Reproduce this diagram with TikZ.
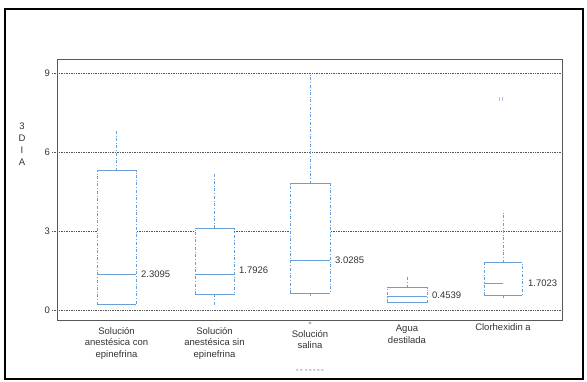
\documentclass[tikz,border=0pt]{standalone}
\usepackage{fontspec}
\setmainfont{Liberation Sans}
\usetikzlibrary{calc}

\definecolor{boxblue}{RGB}{105,160,215}
\definecolor{gridgray}{RGB}{85,85,85}

\begin{document}
\begin{tikzpicture}[x=1pt,y=-1pt,
        every node/.style={font=\fontsize{9.5}{11.5}\selectfont, text=black!80, inner sep=1pt},
        grid/.style={gridgray, densely dotted, line width=0.7pt},
        wsk/.style={boxblue, dash dot, line width=0.55pt},
        edge/.style={boxblue, line width=0.7pt},
        cat/.style={align=center, anchor=north}]

        \useasboundingbox (0,0) rectangle (587,382);
        \draw[line width=1.8pt] (5,9) rectangle (583,379);
        \draw[black!65, line width=0.6pt] (57,59) rectangle (562,320);

        \node[align=center, anchor=north] (Y) at (22,122) {3\\[0.5pt]D\\[0.5pt]I\\[0.5pt]A};

    \begin{scope}[shift={(0,310)}, y=26.3pt]
        \draw[grid] (52,0) -- (562,0);  \node[anchor=east] (T0) at (51,0) {0};
        \draw[grid] (52,3) -- (562,3);  \node[anchor=east] (T3) at (51,3) {3};
        \draw[grid] (52,6) -- (562,6);  \node[anchor=east] (T6) at (51,6) {6};
        \draw[grid] (52,9) -- (562,9);  \node[anchor=east] (T9) at (51,9) {9};

        \draw[wsk] (116.5,5.3) -- (116.5,6.8);
        \filldraw[wsk, fill=white] (97,0.2) rectangle (136,5.3);
        \draw[edge] (97,5.3) -- (136,5.3) (97,0.2) -- (136,0.2) (97,1.37) -- (136,1.37);
        \node[anchor=west] (M1) at (140,1.37) {2.3095};

        \draw[wsk] (214.5,3.1) -- (214.5,5.2) (214.5,0.6) -- (214.5,0.2);
        \filldraw[wsk, fill=white] (195,0.6) rectangle (234,3.1);
        \draw[edge] (195,3.1) -- (234,3.1) (195,0.6) -- (234,0.6) (195,1.37) -- (234,1.37);
        \node[anchor=west] (M2) at (238,1.5) {1.7926};

        \draw[wsk] (310,4.8) -- (310,9.0) (310,0.65) -- (310,0.48);
        \filldraw[wsk, fill=white] (290,0.65) rectangle (330,4.8);
        \draw[edge] (290,4.8) -- (330,4.8) (290,0.65) -- (330,0.65) (290,1.9) -- (330,1.9);
        \node[anchor=west] (M3) at (334,1.9) {3.0285};

        \draw[wsk] (407,0.85) -- (407,1.25);
        \filldraw[wsk, fill=white] (387,0.3) rectangle (427,0.85);
        \draw[edge] (387,0.85) -- (427,0.85) (387,0.3) -- (427,0.3) (387,0.5) -- (427,0.5);
        \node[anchor=west] (M4) at (431,0.55) {0.4539};

        \draw[wsk] (503,1.8) -- (503,3.7) (503,0.57) -- (503,0.42);
        \filldraw[wsk, fill=white] (484,0.57) rectangle (522,1.8);
        \draw[edge] (484,1.8) -- (522,1.8) (484,0.57) -- (522,0.57) (484,1.0) -- (503,1.0);
        \node[anchor=west] (M5) at (527,1.0) {1.7023};

        \draw[boxblue!60, line width=0.6pt] (499,7.95) -- (499,8.1) (502,7.95) -- (502,8.1);
    \end{scope}

        \node[cat] (C1) at (116.5,326) {Solución\\anestésica con\\epinefrina};
        \node[cat] (C2) at (214.5,326) {Solución\\anestésica sin\\epinefrina};
        \node[font=\fontsize{6}{6}\selectfont] (H) at (310,324) {\textasciicircum};
        \node[cat] (C3) at (310,329) {Solución\\salina};
        \node[cat] (C4) at (407,324) {Agua\\destilada};
        \node[cat] (C5) at (503,322) {Clorhexidin a};
        \node[font=\fontsize{8}{8}\selectfont\bfseries, text=black!45] (X) at (310,371) {-\,- -\,-\,-\,-\,-};
    \end{tikzpicture}
\end{document}
